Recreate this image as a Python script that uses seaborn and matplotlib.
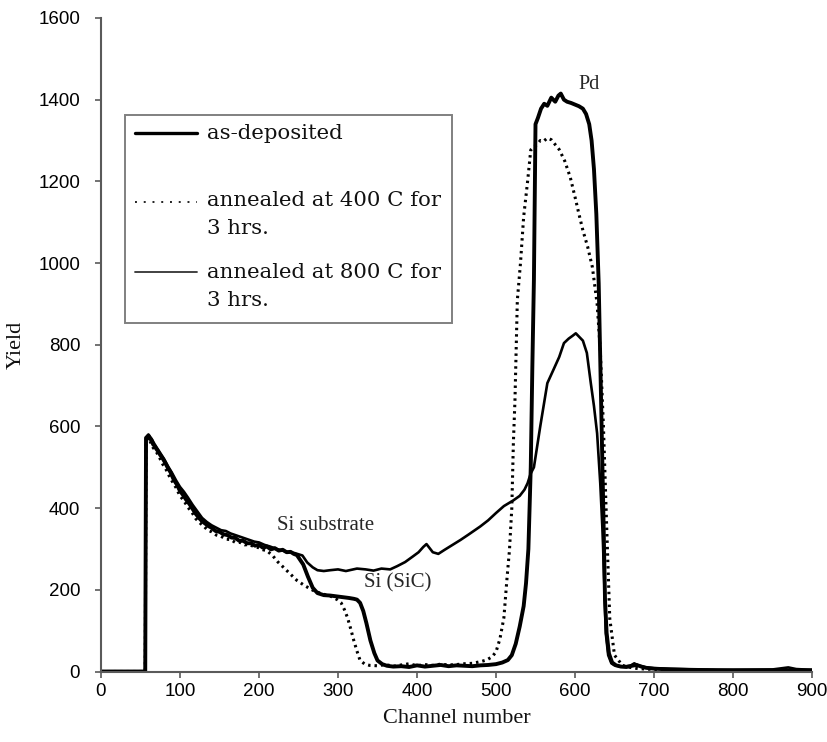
import matplotlib
matplotlib.use("Agg")
import matplotlib.pyplot as plt
from matplotlib.patches import Rectangle
import seaborn as sns
import pandas as pd

# ---------------- data ----------------
ASDEP_CH = [0, 56, 57, 60, 62, 64, 66, 68, 70, 72, 75, 78, 81, 85, 88, 92, 96,
            100, 104, 108, 112, 116, 120, 124, 128, 132, 136, 140, 145, 150, 155,
            160, 165, 170, 175, 180, 185, 190, 195, 200, 205, 210, 215, 220, 225,
            230, 235, 240, 244, 248, 256, 262, 268,
            274, 282, 290, 298, 306, 314, 320, 324, 328, 332,
            336, 341, 346, 350, 356, 362, 370, 380, 390, 400,
            410, 420, 430, 440, 450, 460, 470, 480, 490, 500,
            508, 515, 520, 525, 530, 535, 538, 541, 544, 546,
            548, 550, 553, 557, 561, 565, 570, 575, 579, 582,
            586, 590, 595, 600, 605, 610, 614, 618, 621, 624,
            627, 630, 632, 634, 636, 638, 640, 643, 647, 652,
            658, 665, 672, 678, 684, 690, 700, 720, 750, 780,
            800, 830, 860, 880, 900]
ASDEP_Y = [0, 0, 572, 578, 570, 566, 556, 552, 545, 540, 530, 522, 512, 497, 488, 470, 458,
           442, 432, 420, 410, 398, 386, 376, 368, 362, 356, 352, 344, 342, 336,
           334, 328, 327, 320, 320, 314, 314, 308, 310, 303, 306, 299, 302, 296,
           298, 292, 293, 288, 285, 262, 232, 205,
           192, 187, 186, 184, 182, 180, 178, 176, 168, 148,
           118, 76, 45, 27, 18, 14, 12, 13, 11, 15,
           12, 14, 16, 13, 15, 14, 13, 15, 16, 18,
           22, 28, 40, 68, 110, 160, 216, 300, 500, 745,
           960, 1340, 1355, 1378, 1390, 1385, 1405, 1395, 1410, 1415,
           1400, 1395, 1392, 1388, 1384, 1378, 1365, 1340, 1300, 1230,
           1120, 950, 760, 580, 380, 175, 95, 44, 22, 15,
           12, 11, 14, 16, 12, 9, 7, 5, 4, 3,
           3, 3, 3, 3, 3]

A400_CH = [0, 56, 57, 60, 63, 66, 70, 74, 78, 82, 86, 90, 95,
           100, 105, 110, 115, 120, 125, 130, 135, 140, 146, 152, 158,
           164, 170, 176, 182, 188, 194, 200, 205, 210, 218, 224, 231, 240, 248, 258, 269,
           280, 290, 299, 304, 308, 312, 316, 320, 324, 328,
           334, 340, 350, 360, 370, 380, 390, 400, 410, 420,
           430, 440, 450, 460, 470, 480, 488, 495, 500, 505,
           510, 514, 517, 520, 522, 524, 527, 531, 535, 540,
           544, 548, 552, 556, 560, 565, 570, 575, 580, 587,
           594, 600, 605, 610, 616, 622, 628, 632, 636, 640,
           644, 650, 660, 670, 680, 700, 750, 800, 850, 900]
A400_Y = [0, 0, 565, 572, 560, 548, 538, 524, 508, 496, 480, 466, 450,
          430, 418, 402, 390, 374, 364, 356, 346, 342, 334, 331, 324,
          323, 316, 316, 310, 311, 305, 303, 298, 296, 282, 268, 255, 238, 223, 210, 198,
          190, 185, 176, 168, 152, 132, 105, 76, 50, 27,
          18, 15, 14, 17, 13, 16, 19, 14, 17, 15,
          18, 16, 17, 19, 20, 24, 28, 36, 48, 80,
          132, 230, 296, 400, 560, 664, 909, 1000, 1113, 1200,
          1277, 1285, 1290, 1300, 1298, 1306, 1302, 1290, 1278, 1250,
          1210, 1162, 1120, 1080, 1040, 990, 900, 787, 600, 360,
          130, 40, 15, 10, 7, 5, 3, 2, 2, 2]

A800_CH = [0, 56, 57, 60, 64, 68, 72, 76, 80, 85, 90, 95,
           100, 105, 110, 116, 122, 128, 134, 140, 146, 152, 158, 164, 170,
           176, 182, 188, 194, 200, 207, 214, 222, 230, 238, 245, 255, 261, 268, 274, 282, 290,
           300, 310, 324, 335, 345, 355, 366, 375, 385, 395,
           402, 408, 412, 416, 420, 427, 435, 445, 455, 465,
           480, 490, 500, 510, 522, 530, 536, 540, 544, 548,
           556, 565, 573, 580, 586, 592, 597, 601, 605, 610,
           615, 620, 624, 628, 632, 635, 637, 639, 642, 646,
           650, 660, 670, 675, 680, 690, 700, 750, 800, 850,
           870, 880, 900]
A800_Y = [0, 0, 570, 580, 570, 556, 544, 532, 520, 502, 486, 468,
          452, 440, 426, 408, 392, 376, 366, 358, 352, 346, 344, 338, 334,
          330, 326, 322, 318, 316, 310, 306, 300, 296, 292, 290, 284, 267, 255, 248, 246, 248,
          250, 246, 252, 250, 247, 252, 250, 258, 268, 282,
          292, 305, 312, 302, 292, 288, 298, 310, 322, 335,
          355, 370, 388, 405, 419, 430, 445, 461, 485, 500,
          600, 706, 740, 770, 804, 815, 822, 828, 820, 810,
          780, 706, 650, 583, 460, 338, 220, 93, 40, 20,
          15, 12, 14, 20, 15, 10, 8, 5, 4, 5,
          10, 6, 4]

X_TICKS = [0, 100, 200, 300, 400, 500, 600, 700, 800, 900]
Y_TICKS = [0, 200, 400, 600, 800, 1000, 1200, 1400, 1600]

LEGEND_LABELS = ["as-deposited",
                 "annealed at 400 C for\n3 hrs.",
                 "annealed at 800 C for\n3 hrs."]

# ---------------- styling ----------------
sns.set_theme(style="ticks")
plt.rcParams["font.family"] = ["Liberation Sans", "DejaVu Sans"]
SERIF = ["Liberation Serif", "DejaVu Serif"]
SPINE = "#5a5a5a"

fig = plt.figure(figsize=(8.28, 7.42), dpi=100)
ax = fig.add_axes([101 / 828, (742 - 671.5) / 742, 711 / 828, 653.5 / 742])

df_asdep = pd.DataFrame({"ch": ASDEP_CH, "y": ASDEP_Y})
df_400 = pd.DataFrame({"ch": A400_CH, "y": A400_Y})
df_800 = pd.DataFrame({"ch": A800_CH, "y": A800_Y})

sns.lineplot(data=df_800, x="ch", y="y", ax=ax, color="black", linewidth=1.9,
             estimator=None, sort=False, legend=False)
sns.lineplot(data=df_400, x="ch", y="y", ax=ax, color="black", linewidth=2.2,
             linestyle=(0, (0.8, 1.3)), estimator=None, sort=False, legend=False)
sns.lineplot(data=df_asdep, x="ch", y="y", ax=ax, color="black", linewidth=2.8,
             estimator=None, sort=False, legend=False)

ax.set_xlim(0, 900)
ax.set_ylim(0, 1600)
ax.set_xticks(X_TICKS)
ax.set_yticks(Y_TICKS)
ax.tick_params(axis="both", direction="out", length=4, width=1.2, color=SPINE,
               labelsize=13.5, labelcolor="black")
ax.tick_params(axis="y", pad=11)
ax.tick_params(axis="x", pad=4)
for s in ["top", "right"]:
    ax.spines[s].set_visible(False)
for s in ["left", "bottom"]:
    ax.spines[s].set_color(SPINE)
    ax.spines[s].set_linewidth(1.5)

ax.set_xlabel("Channel number", fontsize=16, family=SERIF, labelpad=7, color="#111")
ax.set_ylabel("Yield", fontsize=16, family=SERIF, labelpad=9, color="#111")

# annotations
ax.text(618, 1438, "Pd", fontsize=14.5, family=SERIF, ha="center", va="center")
ax.text(284, 358, "Si substrate", fontsize=15, family=SERIF, ha="center", va="center")
ax.text(375, 218, "Si (SiC)", fontsize=15, family=SERIF, ha="center", va="center")

# legend (manual box, in axes fraction)
def fx(px):
    return (px - 101) / 711.0

def fy(py):
    return (671.5 - py) / 653.5

ax.add_patch(Rectangle((fx(125), fy(323)), fx(452) - fx(125), fy(115) - fy(323),
                       transform=ax.transAxes, facecolor="white", edgecolor="#808080",
                       linewidth=1.4, zorder=5))
hx = [fx(135), fx(197)]
ax.plot(hx, [fy(133)] * 2, transform=ax.transAxes, color="black", lw=2.4, zorder=6)
ax.plot(hx, [fy(202)] * 2, transform=ax.transAxes, color="#222", lw=1.4,
        linestyle=(0, (1, 3.5)), zorder=6)
ax.plot(hx, [fy(272)] * 2, transform=ax.transAxes, color="#333", lw=1.3, zorder=6)

LEG_FONT = ["DejaVu Serif"]
tx = fx(207)
baselines = [[139], [206, 234], [278, 306]]
for label, bls in zip(LEGEND_LABELS, baselines):
    for line, bl in zip(label.split("\n"), bls):
        ax.text(tx, fy(bl), line, transform=ax.transAxes, fontsize=15.3,
                family=LEG_FONT, ha="left", va="baseline", color="#111", zorder=7)

fig.savefig("out.png", dpi=100)
